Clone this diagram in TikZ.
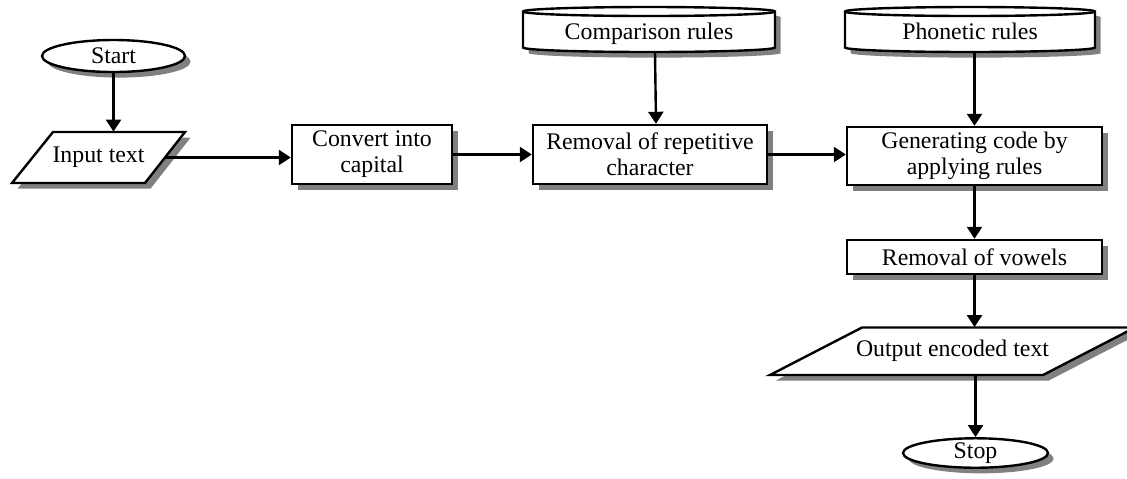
\documentclass[tikz,border=0pt]{standalone}
\usepackage{fontspec}
\setmainfont{Liberation Serif}
\usetikzlibrary{arrows.meta,shadows,shapes.geometric}
\begin{document}
\begin{tikzpicture}[x=0.5pt,y=-0.5pt,
  font=\fontsize{11.9pt}{13pt}\selectfont,
  shad/.style={drop shadow={shadow xshift=2.8pt,shadow yshift=-2.8pt,opacity=1,fill=black!50}},
  box/.style={draw,line width=1.2pt,fill=white,shad,rectangle,inner sep=0pt,align=center},
  term/.style={draw,line width=1.2pt,fill=white,shad,ellipse,inner sep=0pt},
  txt/.style={inner sep=0pt,align=center},
  outline/.style={draw,line width=1.2pt,fill=white,shad,line join=miter},
  arr/.style={line width=1.2pt,-{Triangle[length=6pt,width=7.5pt]}}
]
\useasboundingbox (0,0) rectangle (1127,478);
\clip (0,0) rectangle (1127,478);

% shapes drawn behind text nodes
\draw[outline] (53,132) -- (185,132) -- (145,183) -- (12,183) -- cycle;
\draw[outline] (862,327.5) -- (1135,327.5) -- (1043,375) -- (770,375) -- cycle;
\draw[outline] (523,11.5) -- (523,47.5)
   arc[start angle=180,end angle=0,x radius=126,y radius=4.5] -- (775,11.5)
   arc[start angle=0,end angle=-180,x radius=126,y radius=4.5] -- cycle;
\draw[line width=1.2pt] (523,11.5) arc[start angle=180,end angle=0,x radius=126,y radius=4.5];
\draw[outline] (845,11.5) -- (845,47.5)
   arc[start angle=180,end angle=0,x radius=125,y radius=4.5] -- (1095,11.5)
   arc[start angle=0,end angle=-180,x radius=125,y radius=4.5] -- cycle;
\draw[line width=1.2pt] (845,11.5) arc[start angle=180,end angle=0,x radius=125,y radius=4.5];

% nodes
\node[term,minimum width=71.5pt,minimum height=16pt] (start) at (113.5,56) {Start};
\node[txt,minimum width=66pt,minimum height=25.5pt] (in) at (98.5,157.5) {Input text};
\node[box,minimum width=80pt,minimum height=29.5pt] (conv) at (372,154.5) {Convert into\\capital};
\node[box,minimum width=117pt,minimum height=29.5pt] (rep) at (650,154.5) {Removal of repetitive\\character};
\node[box,minimum width=127.5pt,minimum height=29pt] (gen) at (974.5,156) {Generating code by\\applying rules};
\node[box,minimum width=127.5pt,minimum height=17pt] (vow) at (974.5,257) {Removal of vowels};
\node[txt,minimum width=136.5pt,minimum height=23.75pt] (out) at (952.5,351.25) {Output encoded text};
\node[term,minimum width=72.5pt,minimum height=12pt] (stop) at (975.5,453) {Stop};
\node[txt,minimum width=126pt,minimum height=22.5pt,text height=12pt,text depth=2.5pt] (cmp) at (649,29.5) {Comparison rules};
\node[txt,minimum width=125pt,minimum height=22.5pt,text height=12pt,text depth=2.5pt] (pho) at (970,29.5) {Phonetic rules};

% connectors
\draw[arr] (start.south) -- (start.south |- in.north);
\draw[arr] (in.east) -- (in.east -| conv.west);
\draw[arr] (conv.east) -- (rep.west);
\draw[arr] (rep.east) -- (rep.east -| gen.west);
\draw[arr] ([xshift=3pt]cmp.south) -- ([xshift=3pt]rep.north);
\draw[arr] (pho.south -| gen.north) -- (gen.north);
\draw[arr] (gen.south) -- (vow.north);
\draw[arr] (vow.south) -- (vow.south |- out.north);
\draw[arr] (out.south -| stop.north) -- (stop.north);
\end{tikzpicture}
\end{document}
